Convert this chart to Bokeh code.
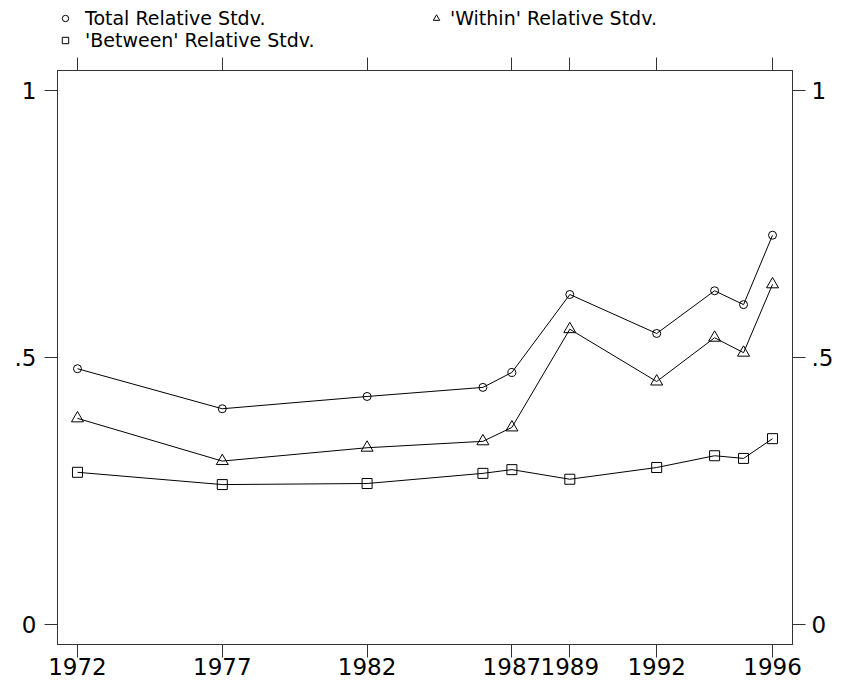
from bokeh.plotting import figure
from bokeh.layouts import column
from bokeh.models import LinearAxis, FixedTicker, Range1d, Legend, LegendItem
from bokeh.embed import file_html
from bokeh.resources import INLINE

years = [1972, 1977, 1982, 1986, 1987, 1989, 1992, 1994, 1995, 1996]
total = [0.479, 0.404, 0.427, 0.444, 0.472, 0.618, 0.545, 0.625, 0.599, 0.729]
within = [0.386, 0.306, 0.331, 0.343, 0.369, 0.553, 0.455, 0.537, 0.509, 0.637]
between = [0.285, 0.262, 0.264, 0.283, 0.290, 0.272, 0.294, 0.316, 0.311, 0.348]

x_ticks = [1972, 1977, 1982, 1987, 1989, 1992, 1996]
y_ticks = [0, 0.5, 1]
y_tick_labels = ["0", ".5", "1"]

series_names = ["Total Relative Stdv.", "'Within' Relative Stdv.", "'Between' Relative Stdv."]

FONT = "DejaVu Sans"
INK = "#333333"

# ---------------- main chart ----------------
p = figure(width=841, height=636,
           x_range=Range1d(1971.31, 1996.69), y_range=Range1d(-0.0375, 1.0375),
           output_backend="svg", toolbar_location=None,
           x_axis_location=None, y_axis_location=None,
           min_border_left=57, min_border_right=49,
           min_border_top=18, min_border_bottom=44)
p.xgrid.grid_line_color = None
p.ygrid.grid_line_color = None
p.outline_line_color = INK
p.background_fill_color = "white"
p.border_fill_color = "white"


def style(ax, standoff=0, size="23px"):
    ax.axis_line_color = INK
    ax.major_tick_line_color = INK
    ax.major_tick_out = 13
    ax.major_tick_in = 0
    ax.minor_tick_out = 0
    ax.minor_tick_in = 0
    ax.major_label_text_font = FONT
    ax.major_label_text_color = "black"
    ax.major_label_standoff = standoff
    ax.major_label_text_font_size = size


xb = LinearAxis(ticker=FixedTicker(ticks=x_ticks))
style(xb, standoff=0)
p.add_layout(xb, "below")

xt = LinearAxis(ticker=FixedTicker(ticks=x_ticks),
                major_label_overrides={t: "" for t in x_ticks})
style(xt, standoff=0, size="1px")
p.add_layout(xt, "above")

ov = {t: s for t, s in zip(y_ticks, y_tick_labels)}
yl = LinearAxis(ticker=FixedTicker(ticks=y_ticks), major_label_overrides=ov)
style(yl, standoff=8)
p.add_layout(yl, "left")
yr = LinearAxis(ticker=FixedTicker(ticks=y_ticks), major_label_overrides=ov)
style(yr, standoff=6)
p.add_layout(yr, "right")

for ys in (total, within, between):
    p.line(years, ys, line_color="black", line_width=1)

markers = ["circle", "triangle", "square"]
msizes = [8, 12, 10]
for ys, m, s in zip((total, within, between), markers, msizes):
    p.scatter(years, ys, marker=m, size=s, fill_color=None, line_color="black")

# ---------------- legend strip ----------------
lf = figure(width=841, height=52, x_range=Range1d(0, 1), y_range=Range1d(0, 1),
            output_backend="svg", toolbar_location=None,
            x_axis_location=None, y_axis_location=None,
            min_border=0, min_border_left=0, min_border_right=0,
            min_border_top=0, min_border_bottom=0)
lf.xgrid.grid_line_color = None
lf.ygrid.grid_line_color = None
lf.outline_line_color = None
lf.background_fill_color = "white"
lf.border_fill_color = "white"

nan = float("nan")
keys = [lf.scatter(x=[nan], y=[nan], marker=m, size=8, fill_color=None, line_color="black")
        for m in markers]

locs = [(0, 23), (371, 23), (0, 1)]
standoffs = [12, 6, 12]
for name, r, loc, so in zip(series_names, keys, locs, standoffs):
    lg = Legend(items=[LegendItem(label=name, renderers=[r])], location=loc)
    lg.border_line_color = None
    lg.background_fill_alpha = 0
    lg.padding = 0
    lg.margin = 0
    lg.spacing = 0
    lg.glyph_width = 16
    lg.glyph_height = 20
    lg.label_standoff = so
    lg.label_text_font = FONT
    lg.label_text_font_size = "19px"
    lg.label_text_color = "black"
    lf.add_layout(lg, "center")

layout = column(lf, p, spacing=0)
open("out.html", "w").write(file_html(layout, INLINE))
